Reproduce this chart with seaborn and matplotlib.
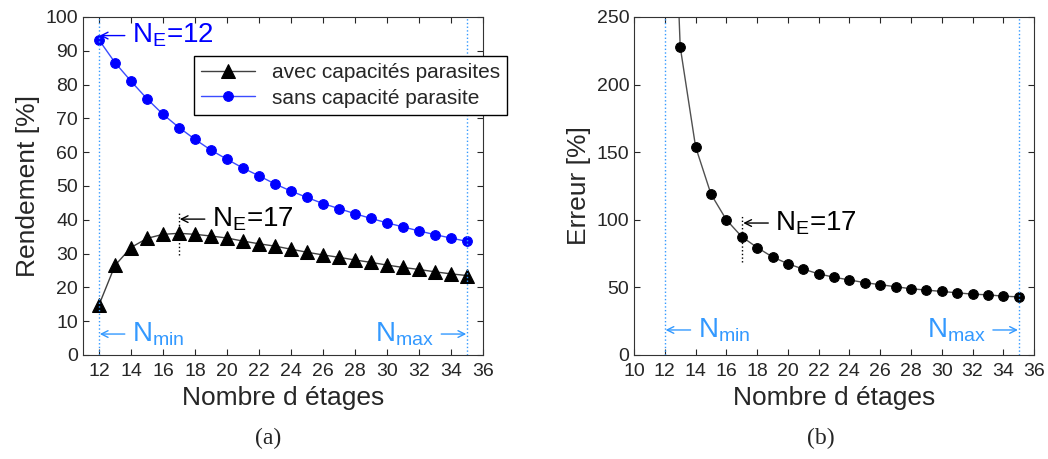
import numpy as np
import pandas as pd
import matplotlib
matplotlib.use("Agg")
import matplotlib.pyplot as plt
import seaborn as sns

sns.set_style("ticks")
plt.rcParams['font.family'] = ['Liberation Sans', 'DejaVu Sans']
plt.rcParams['mathtext.default'] = 'regular'

# number of stages
stages = list(range(12, 36))

# efficiency with parasitic capacitances [%]
rend_avec = [14.8, 26.5, 31.8, 34.5, 35.7, 36.0, 35.7, 35.2, 34.6, 33.7, 32.9, 32.2,
             31.3, 30.4, 29.6, 28.9, 28.1, 27.4, 26.6, 25.9, 25.3, 24.6, 24.0, 23.5]
# efficiency without parasitic capacitance [%]
rend_sans = [93.2, 86.5, 81.0, 75.8, 71.2, 67.3, 63.8, 60.6, 57.9, 55.3, 53.0, 50.6,
             48.5, 46.6, 44.8, 43.3, 41.8, 40.4, 39.1, 37.9, 36.7, 35.6, 34.6, 33.6]
# error [%] (first point is off the top of the plot)
erreur = [530, 228, 154, 119, 100, 87.5, 79.5, 72.5, 67.5, 63.5, 60.0, 57.5,
          55.5, 53.5, 52.0, 50.5, 49.0, 48.0, 47.0, 46.0, 45.0, 44.5, 43.5, 43.0]

n_min, n_max, n_opt = 12, 35, 17

df = pd.DataFrame({'N': stages, 'avec': rend_avec, 'sans': rend_sans, 'err': erreur})

lightblue = '#3399ff'


def arrow_label(ax, x, y, text, color, side='left'):
    # arrow pointing to (x, y), label next to it (MATLAB-style "<- text")
    sgn = 1 if side == 'left' else -1
    ax.annotate('', xy=(x, y), xytext=(sgn * 25, 0), textcoords='offset pixels',
                arrowprops=dict(arrowstyle='->', color=color, lw=1, shrinkA=0, shrinkB=0,
                                mutation_scale=12))
    ax.annotate(text, xy=(x, y), xytext=(sgn * 32, 0), textcoords='offset pixels',
                color=color, fontsize=20, va='center',
                ha='left' if side == 'left' else 'right')


fig = plt.figure(figsize=(10.48, 4.59), dpi=100)
ax1 = fig.add_axes([0.0792, 0.2266, 0.3817, 0.7364])
ax2 = fig.add_axes([0.605, 0.2266, 0.3817, 0.7364])

# --- (a) efficiency ---
sns.lineplot(data=df, x='N', y='avec', ax=ax1, color='#404040', lw=1,
             marker='^', markersize=10, markerfacecolor='black', markeredgecolor='black',
             label='avec capacités parasites')
sns.lineplot(data=df, x='N', y='sans', ax=ax1, color='#3b4cff', lw=1,
             marker='o', markersize=7, markerfacecolor='blue', markeredgecolor='blue',
             label='sans capacité parasite')
ax1.set_xlim(11, 36)
ax1.set_ylim(0, 100)
ax1.set_xticks(range(12, 37, 2))
ax1.set_yticks(range(0, 101, 10))
ax1.set_ylabel('Rendement [%]', fontsize=19)
for xv in (n_min, n_max):
    ax1.axvline(xv, color=lightblue, ls=':', lw=1)
ax1.plot([n_opt, n_opt], [29.6, 42], color='black', ls=':', lw=1)
arrow_label(ax1, 12.05, 94.5, 'N$_E$=12', 'blue')
arrow_label(ax1, 17.05, 40.2, 'N$_E$=17', 'black')
arrow_label(ax1, 12.05, 6.2, 'N$_{min}$', lightblue)
arrow_label(ax1, 34.95, 6.2, 'N$_{max}$', lightblue, side='right')
leg = ax1.legend(loc='upper right', bbox_to_anchor=(0.484, 0.878), bbox_transform=fig.transFigure,
                 fontsize=15, frameon=True, fancybox=False, edgecolor='black',
                 handlelength=2.6, borderpad=0.35, labelspacing=0.3, borderaxespad=0)
leg.get_frame().set_linewidth(1)
leg.get_frame().set_alpha(1)

# --- (b) error ---
sns.lineplot(data=df, x='N', y='err', ax=ax2, color='#505050', lw=1,
             marker='o', markersize=7, markerfacecolor='black', markeredgecolor='black')
ax2.set_xlim(10, 36)
ax2.set_ylim(0, 250)
ax2.set_xticks(range(10, 37, 2))
ax2.set_yticks(range(0, 251, 50))
ax2.set_ylabel('Erreur [%]', fontsize=19)
for xv in (n_min, n_max):
    ax2.axvline(xv, color=lightblue, ls=':', lw=1)
ax2.plot([n_opt, n_opt], [68.8, 103.5], color='black', ls=':', lw=1)
arrow_label(ax2, 17.1, 97.6, 'N$_E$=17', 'black')
arrow_label(ax2, 12.05, 18.5, 'N$_{min}$', lightblue)
arrow_label(ax2, 34.95, 18.5, 'N$_{max}$', lightblue, side='right')

for ax in (ax1, ax2):
    ax.set_xlabel('Nombre d étages', fontsize=19, labelpad=4)
    ax.tick_params(direction='in', top=True, right=True, labelsize=14, length=4, width=0.8)
    ax.tick_params(axis='x', pad=6)
    for s in ax.spines.values():
        s.set_visible(True)
        s.set_linewidth(0.8)
        s.set_color('#333333')

fig.text(0.256, 0.045, '(a)', fontsize=17, ha='center', va='center', family='Liberation Serif')
fig.text(0.783, 0.045, '(b)', fontsize=17, ha='center', va='center', family='Liberation Serif')

fig.savefig('out.png', dpi=100)
